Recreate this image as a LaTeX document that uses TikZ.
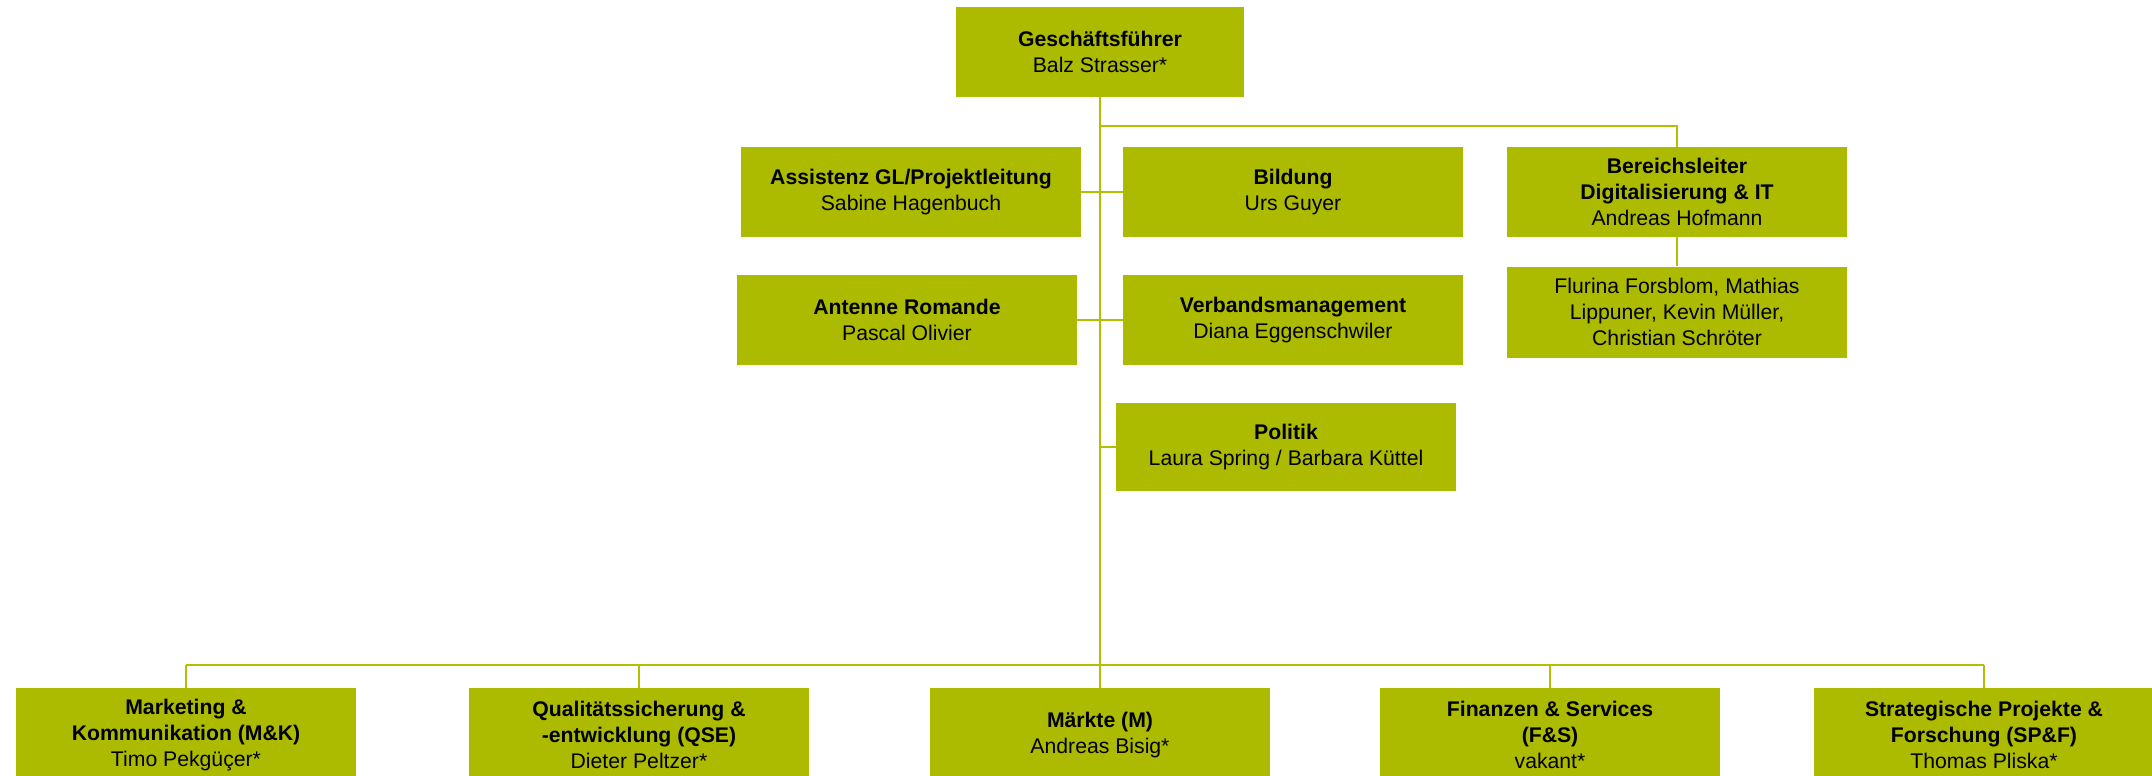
\documentclass[tikz,border=0pt]{standalone}
\usepackage{fontspec}
\setmainfont{Liberation Sans}
\usepackage{tikz}
\usetikzlibrary{positioning}

\definecolor{boxgreen}{HTML}{ADBB00}
\definecolor{linegreen}{HTML}{B3C000}

\begin{document}
\begin{tikzpicture}[x=0.5pt, y=-0.5pt, on grid,
   box/.style={rectangle, fill=boxgreen, minimum width=170pt, minimum height=45pt,
               inner sep=0pt, align=center, font=\fontsize{10.6}{13.2}\selectfont},
   line/.style={draw=linegreen, line width=1.3pt}]
   \useasboundingbox (0,0) rectangle (2152,776);

   % 定义节点
   \node[box, minimum width=144pt] (gf) at (1100,52) {\textbf{Geschäftsführer}\\Balz Strasser*};
   \node[box] (assist) [below left=70pt and 94.5pt of gf] {\textbf{Assistenz GL/Projektleitung}\\Sabine Hagenbuch};
   \node[box] (bildung) [right=191pt of assist] {\textbf{Bildung}\\Urs Guyer};
   \node[box] (bereich) [right=192pt of bildung] {\textbf{Bereichsleiter}\\\textbf{Digitalisierung \& IT}\\Andreas Hofmann};
   \node[box] (antenne) [below=64pt of assist, xshift=-2pt] {\textbf{Antenne Romande}\\Pascal Olivier};
   \node[box] (verband) [below=64pt of bildung] {\textbf{Verbandsmanagement}\\Diana Eggenschwiler};
   \node[box, minimum height=45.5pt] (flurina) [below=60pt of bereich] {Flurina Forsblom, Mathias\\Lippuner, Kevin Müller,\\Christian Schröter};
   \node[box, minimum height=44pt] (politik) [below=63.5pt of verband, xshift=-3.5pt] {\textbf{Politik}\\Laura Spring / Barbara Küttel};

   \node[box, minimum height=47pt] (maerkte) [below=341.5pt of gf] {\textbf{Märkte (M)}\\Andreas Bisig*};
   \node[box, minimum height=47pt] (qse) [left=230.5pt of maerkte] {\textbf{Qualitätssicherung \&}\\\textbf{-entwicklung (QSE)}\\Dieter Peltzer*};
   \node[box, minimum height=47pt] (mk) [left=226.5pt of qse] {\textbf{Marketing \&}\\\textbf{Kommunikation (M\&K)}\\Timo Pekgüçer*};
   \node[box, minimum height=47pt] (fs) [right=225pt of maerkte] {\textbf{Finanzen \& Services}\\\textbf{(F\&S)}\\vakant*};
   \node[box, minimum height=47pt] (spf) [right=217pt of fs] {\textbf{Strategische Projekte \&}\\\textbf{Forschung (SP\&F)}\\Thomas Pliska*};

   \coordinate (topbus) at (1100,126);
   \coordinate (bus) at (1100,665);

   % 连线
   \draw[line] (gf.south) -- (gf.south |- bus);
   \draw[line] (gf.south |- topbus) -| (bereich.north);
   \draw[line] (assist.east) -- (bildung.west);
   \draw[line] (antenne.east) -- (verband.west);
   \draw[line] (gf.south |- politik.west) -- (politik.west);
   \draw[line] (bereich.south) -- (flurina.north);
   \draw[line] (mk.north |- bus) -- (spf.north |- bus);
   \foreach \n in {mk, qse, maerkte, fs, spf}
      \draw[line] (\n.north |- bus) -- (\n.north);
\end{tikzpicture}
\end{document}
